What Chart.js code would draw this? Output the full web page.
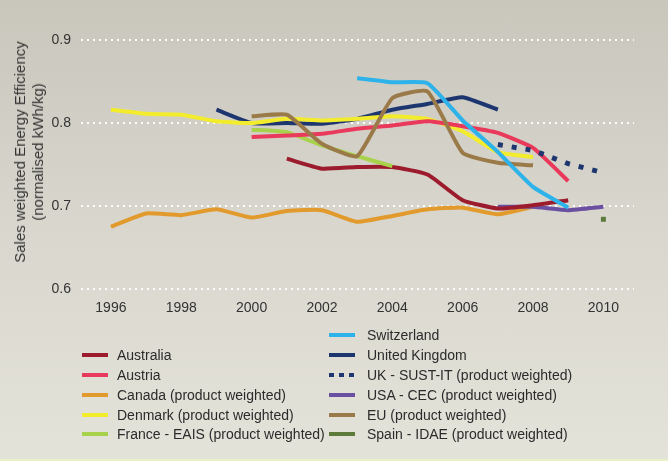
<!DOCTYPE html>
<html>
<head>
<meta charset="utf-8">
<script src="https://cdn.jsdelivr.net/npm/chart.js@4.4.1/dist/chart.umd.min.js"></script>
<style>
  html, body { margin: 0; padding: 0; }
  body { width: 668px; height: 461px; overflow: hidden; }
  #wrap {
    position: relative; width: 668px; height: 461px;
    background: linear-gradient(to bottom, #c9c7bc 0%, #d7d5cc 45%, #e4e3da 100%);
    font-family: "Liberation Sans", Arial, sans-serif;
  }
  #edge { position: absolute; left: 0; right: 0; bottom: 0; height: 2px; background: #e8f1c4; }
  canvas { position: absolute; left: 0; top: 0; }
  #ytitle {
    position: absolute; left: 29px; top: 152px;
    transform: translate(-50%, -50%) rotate(-90deg);
    font-size: 15px; line-height: 18px; color: #333; text-align: center; white-space: nowrap;
  }
  .leg { position: absolute; font-size: 14px; color: #2b2b2b; white-space: nowrap; line-height: 16px; }
  .sw { position: absolute; width: 26px; height: 4px; }
  .sw.dot { background: none !important; }
  .sw.dot i { position: absolute; top: 0; width: 5px; height: 4px; }
</style>
</head>
<body>
<div id="wrap">
  <canvas id="c" width="668" height="461"></canvas>
  <div id="ytitle">Sales weighted Energy Efficiency<br>(normalised kWh/kg)</div>
  <div id="legend"></div>
  <div id="edge"></div>
</div>
<script>
// ---- data ----
const years = [1996, 1997, 1998, 1999, 2000, 2001, 2002, 2003, 2004, 2005, 2006, 2007, 2008, 2009, 2010];
const xTicks = [1996, 1998, 2000, 2002, 2004, 2006, 2008, 2010];
const yTicks = [0.6, 0.7, 0.8, 0.9];

const australia   = [null, null, null, null, null, 0.757, 0.745, 0.747, 0.747, 0.738, 0.707, 0.697, 0.701, 0.707, null];
const austria     = [null, null, null, null, 0.783, 0.785, 0.787, 0.793, 0.797, 0.802, 0.796, 0.788, 0.770, 0.730, null];
const canada      = [0.675, 0.691, 0.689, 0.696, 0.686, 0.694, 0.695, 0.681, 0.688, 0.696, 0.698, 0.690, 0.699, null, null];
const denmark     = [0.816, 0.811, 0.810, 0.802, 0.800, 0.805, 0.803, 0.805, 0.808, 0.805, 0.790, 0.765, 0.759, null, null];
const france      = [null, null, null, null, 0.792, 0.789, 0.773, 0.760, 0.748, null, null, null, null, null, null];
const switzerland = [null, null, null, null, null, null, null, 0.854, 0.849, 0.848, 0.803, 0.765, 0.723, 0.698, null];
const unitedKingdom = [null, null, null, 0.816, 0.800, 0.800, 0.799, 0.805, 0.816, 0.823, 0.831, 0.816, null, null, null];
const ukSustIt    = [null, null, null, null, null, null, null, null, null, null, null, 0.774, 0.767, 0.751, 0.740];
const usaCec      = [null, null, null, null, null, null, null, null, null, null, null, 0.699, 0.699, 0.695, 0.699];
const eu          = [null, null, null, null, 0.808, 0.810, 0.775, 0.760, 0.830, 0.838, 0.764, 0.752, 0.749, null, null];
const spain       = [null, null, null, null, null, null, null, null, null, null, null, null, null, null, 0.684];

const seriesNames = [
  "Australia", "Austria", "Canada (product weighted)", "Denmark (product weighted)",
  "France - EAIS (product weighted)", "Switzerland", "United Kingdom",
  "UK - SUST-IT (product weighted)", "USA - CEC (product weighted)",
  "EU (product weighted)", "Spain - IDAE (product weighted)"
];
const seriesValues = [australia, austria, canada, denmark, france, switzerland, unitedKingdom, ukSustIt, usaCec, eu, spain];

// ---- styles ----
const colors = ["#9c1b2c", "#ea3a5c", "#e29a2c", "#f2ec2c", "#a9d24c", "#2eb2ea", "#1e3670", "#1e3670", "#6b50a2", "#9b7a4a", "#5c7a3a"];
const drawOrder = [7, 4, 9, 5, 6, 1, 5, 3, 8, 2, 0];

function toPoints(vals) {
  const pts = [];
  vals.forEach((v, i) => { if (v !== null) pts.push({ x: years[i], y: v }); });
  return pts;
}

const datasets = seriesNames.map((name, i) => {
  const ds = {
    label: name,
    data: toPoints(seriesValues[i]),
    borderColor: colors[i],
    backgroundColor: colors[i],
    borderWidth: 4,
    pointRadius: 0,
    pointHoverRadius: 0,
    tension: 0.15,
    borderJoinStyle: 'round',
    borderCapStyle: 'butt',
    fill: false,
    order: drawOrder[i]
  };
  if (name.startsWith("UK - SUST")) {
    ds.borderDash = [5, 9];
    ds.borderWidth = 5;
    ds.tension = 0;
  }
  if (name.startsWith("Spain")) {
    ds.showLine = false;
    ds.pointStyle = 'rect';
    ds.pointRadius = 3.5;
    ds.borderWidth = 0;
  }
  return ds;
});

const PLOT_LEFT = 81, PLOT_RIGHT = 634, PLOT_TOP = 40, PLOT_BOTTOM = 289, XAXIS_H = 30;

new Chart(document.getElementById('c'), {
  type: 'line',
  data: { datasets },
  options: {
    responsive: false,
    animation: false,
    events: [],
    layout: { padding: { top: PLOT_TOP, left: 0, right: 668 - PLOT_RIGHT, bottom: 461 - PLOT_BOTTOM - XAXIS_H } },
    plugins: { legend: { display: false }, tooltip: { enabled: false } },
    scales: {
      x: {
        type: 'linear',
        min: 1995.15,
        max: 2010.87,
        afterBuildTicks: (s) => { s.ticks = xTicks.map(v => ({ value: v })); },
        afterFit: (s) => { s.height = XAXIS_H; },
        grid: { display: false, drawTicks: false },
        border: { display: false },
        ticks: {
          padding: 11,
          color: '#333',
          font: { family: 'Liberation Sans', size: 14 },
          callback: (v) => String(v),
          maxRotation: 0,
          autoSkip: false
        }
      },
      y: {
        min: 0.6,
        max: 0.9,
        afterBuildTicks: (s) => { s.ticks = yTicks.map(v => ({ value: v })); },
        afterFit: (s) => { s.width = PLOT_LEFT; },
        grid: {
          color: 'rgba(255,255,255,0.95)',
          lineWidth: 2,
          drawTicks: false
        },
        border: { display: false, dash: [2, 4] },
        ticks: {
          padding: 10,
          color: '#333',
          font: { family: 'Liberation Sans', size: 14 },
          callback: (v) => v.toFixed(1)
        }
      }
    }
  }
});

// ---- HTML legend (two columns as in the reference) ----
const legendLayout = [
  // [seriesIndex, swatchLeft, textLeft, centerY]
  [0, 82, 117, 355], [1, 82, 117, 375], [2, 82, 117, 395], [3, 82, 117, 415], [4, 82, 117, 434],
  [5, 329, 367, 335], [6, 329, 367, 355], [7, 329, 367, 375], [8, 329, 367, 395], [9, 329, 367, 415], [10, 329, 367, 434]
];
const legend = document.getElementById('legend');
legendLayout.forEach(([i, sx, tx, cy]) => {
  const sw = document.createElement('div');
  sw.className = 'sw';
  sw.style.left = sx + 'px';
  sw.style.top = (cy - 2) + 'px';
  if (seriesNames[i].startsWith("UK - SUST")) {
    sw.classList.add('dot');
    [0, 10, 20].forEach(o => {
      const d = document.createElement('i');
      d.style.left = o + 'px';
      d.style.background = colors[i];
      sw.appendChild(d);
    });
  } else {
    sw.style.background = colors[i];
  }
  legend.appendChild(sw);
  const t = document.createElement('div');
  t.className = 'leg';
  t.style.left = tx + 'px';
  t.style.top = (cy - 8) + 'px';
  t.textContent = seriesNames[i];
  legend.appendChild(t);
});
</script>
</body>
</html>
